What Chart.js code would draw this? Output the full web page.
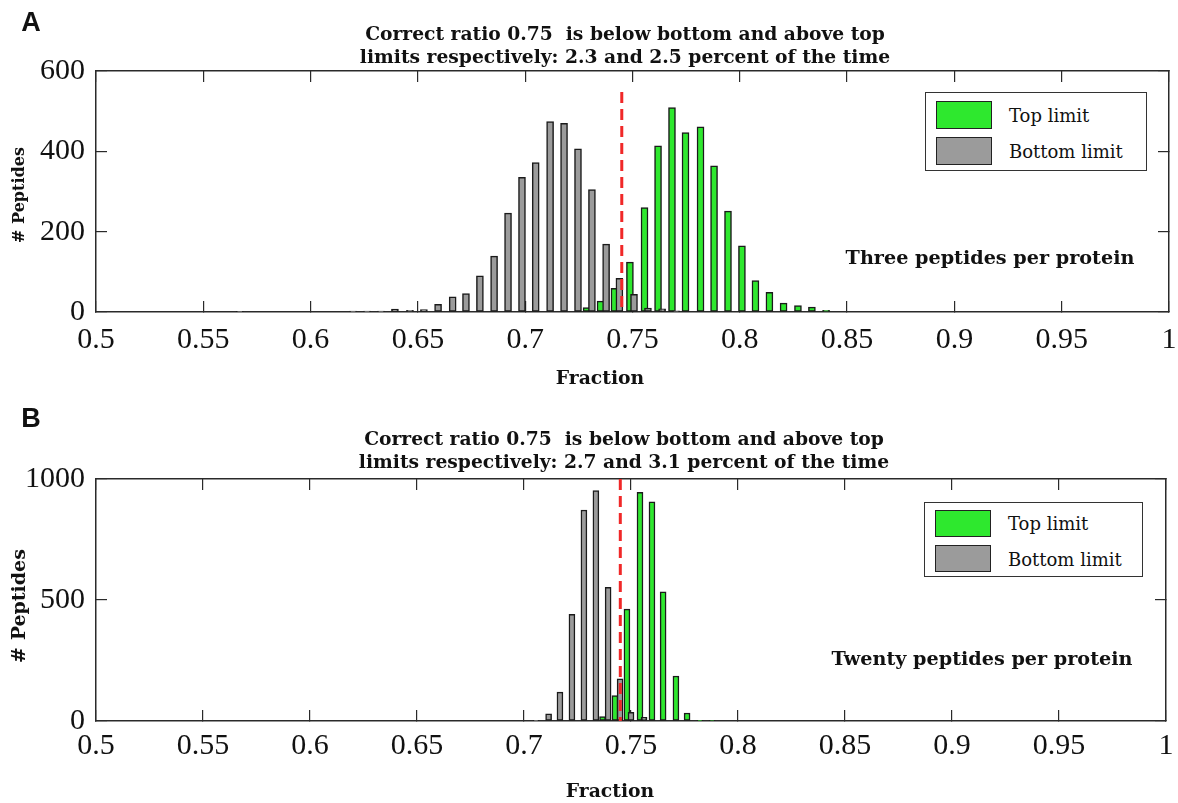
<!DOCTYPE html>
<html>
<head>
<meta charset="utf-8">
<script src="https://cdn.jsdelivr.net/npm/chart.js@4.4.1/dist/chart.umd.min.js"></script>
<style>
  html, body { margin: 0; padding: 0; background: #fff; }
  #page { position: relative; width: 1178px; height: 803px; overflow: hidden; background: #fff; }
  canvas { position: absolute; left: 0; }
  #cvA { top: 0; }
  #cvB { top: 400px; }
  .t { position: absolute; white-space: nowrap; color: #111; font-family: 'DejaVu Serif', serif; transform: translate(-50%, -50%); }
  .panel { font-family: 'Liberation Sans', Arial, sans-serif; font-weight: bold; font-size: 27px; }
  .ttl { font-weight: bold; font-size: 18.7px; line-height: 23px; text-align: center; }
  .bold { font-weight: bold; font-size: 18.8px; }
  .note { font-weight: bold; font-size: 19.2px; }
  .ylab { transform: translate(-50%, -50%) rotate(-90deg); font-weight: bold; font-size: 16px; }
  .legend { position: absolute; border: 1.5px solid #333; background: #fff; box-sizing: border-box; }
  .sw { position: absolute; left: 10px; width: 56px; height: 28px; border: 1.5px solid #222; box-sizing: border-box; }
  .lt { position: absolute; left: 83px; font-family: 'DejaVu Serif', serif; font-size: 18px; color: #111; transform: translateY(-50%); white-space: nowrap; }
</style>
</head>
<body>
<div id="page">
  <canvas id="cvA" width="1178" height="400"></canvas>
  <canvas id="cvB" width="1178" height="403"></canvas>

  <div class="t panel" style="left:31px;top:22px;">A</div>
  <div class="t ttl" style="left:625px;top:45px;">Correct ratio 0.75&nbsp; is below bottom and above top<br>limits respectively: 2.3 and 2.5 percent of the time</div>
  <div class="t ylab" style="left:18px;top:195px;"># Peptides</div>
  <div class="t bold" style="left:600px;top:377px;">Fraction</div>
  <div class="t note" style="left:990px;top:257px;">Three peptides per protein</div>
  <div class="legend" style="left:925px;top:92px;width:222px;height:79px;">
    <div class="sw" style="top:8px;background:#2ee82e;"></div>
    <div class="sw" style="top:44px;background:#9b9b9b;"></div>
    <div class="lt" style="top:22px;">Top limit</div>
    <div class="lt" style="top:58px;">Bottom limit</div>
  </div>

  <div class="t panel" style="left:31px;top:418px;">B</div>
  <div class="t ttl" style="left:624px;top:450px;">Correct ratio 0.75&nbsp; is below bottom and above top<br>limits respectively: 2.7 and 3.1 percent of the time</div>
  <div class="t ylab" style="left:18px;top:606px;font-size:19px;"># Peptides</div>
  <div class="t bold" style="left:610px;top:790px;">Fraction</div>
  <div class="t note" style="left:982px;top:658px;">Twenty peptides per protein</div>
  <div class="legend" style="left:924px;top:502px;width:219px;height:75px;">
    <div class="sw" style="top:7px;height:27px;background:#2ee82e;"></div>
    <div class="sw" style="top:42px;height:27px;background:#9b9b9b;"></div>
    <div class="lt" style="top:20px;">Top limit</div>
    <div class="lt" style="top:56px;">Bottom limit</div>
  </div>
</div>

<script>
/* ---- values ---- */

// x axis (fraction)
const xMin = 0.5, xMax = 1, xStep = 0.05;

// panel A: three peptides per protein
const fracA_bottom  = [0.5670, 0.6198, 0.6263, 0.6328, 0.6393, 0.6463, 0.6528, 0.6594, 0.6662, 0.6724, 0.6789, 0.6855, 0.6920,
                       0.6985, 0.7049, 0.7116, 0.7181, 0.7246, 0.7311, 0.7377, 0.7439, 0.7507, 0.7572, 0.7638, 0.7703];
const countA_bottom = [1, 2, 2, 2, 7, 4, 6, 19, 38, 46, 90, 139, 246,
                       335, 372, 474, 470, 406, 305, 169, 84, 44, 10, 8, 3];
const fracA_top     = [0.7286, 0.7351, 0.7416, 0.7488, 0.7556, 0.7619, 0.7684, 0.7747, 0.7817,
                       0.7880, 0.7945, 0.8010, 0.8073, 0.8138, 0.8204, 0.8271, 0.8336, 0.8402];
const countA_top    = [11, 27, 59, 124, 260, 414, 509, 447, 461,
                       364, 251, 165, 78, 49, 22, 16, 12, 4];
const yMaxA = 600, yStepA = 200;
const markerTopA = 548;

// panel B: twenty peptides per protein
const fracB_bottom  = [0.7056, 0.7115, 0.7168, 0.7224, 0.7280, 0.7336, 0.7393, 0.7449, 0.7500, 0.7561];
const countB_bottom = [3, 30, 119, 441, 872, 952, 552, 174, 36, 15];
const fracB_top     = [0.7367, 0.7425, 0.7481, 0.7542, 0.7598, 0.7650, 0.7710, 0.7762, 0.7822, 0.7879];
const countB_top    = [18, 105, 462, 945, 906, 534, 186, 33, 3, 2];
const yMaxB = 1000, yStepB = 500;
const markerTopB = 1000;

// dashed red marker
const markerX = 0.745;

/* ---- styling ---- */
const INK   = '#2a2a2a';
const GREEN = '#2ee82e';
const GRAY  = '#9b9b9b';
const EDGE  = '#1a1a1a';
const RED   = '#f02828';

function pts(xs, ys) {
  return xs.map((x, i) => ({ x: x, y: ys[i] }));
}

function fmt(v) {
  return String(+(+v).toFixed(2));
}

// one side of the MATLAB style box: border + inward tick marks
// (x labels are pushed down with a tall line height, so the tick padding
//  does not eat into the right margin)
function side(pos, min, max, step, labels, pad, lh, fit) {
  return {
    type: 'linear', position: pos, min: min, max: max, offset: false,
    grid: { drawOnChartArea: false, drawTicks: true, tickLength: -11, color: INK, lineWidth: 1.2, offset: false },
    border: { display: true, color: INK, width: 1.5 },
    ticks: {
      display: labels, stepSize: step, padding: pad, color: '#111',
      font: { family: 'Liberation Serif', size: 30, lineHeight: lh },
      maxRotation: 0, minRotation: 0, autoSkip: false, callback: fmt,
    },
    afterFit: fit,
  };
}

function barSet(label, data, color, thick, order) {
  return {
    type: 'bar', label: label, data: data,
    backgroundColor: color, borderColor: EDGE, borderWidth: 1.5, borderSkipped: false,
    barThickness: thick, grouped: false, order: order,
  };
}

function makePanel(id, p) {
  return new Chart(document.getElementById(id), {
    type: 'bar',
    data: {
      datasets: [
        {
          // drawn top-down so the dash pattern starts at the top end
          type: 'line', label: 'correct ratio',
          data: [{ x: markerX, y: p.markerTop }, { x: markerX, y: 0 }],
          borderColor: RED, borderWidth: 3, borderDash: [11, 6], pointRadius: 0, order: 0,
        },
        barSet('Bottom limit', pts(p.fracBottom, p.countBottom), GRAY, p.barW, 1),
        barSet('Top limit', pts(p.fracTop, p.countTop), GREEN, p.barW, 2),
      ],
    },
    options: {
      responsive: false, animation: false,
      layout: { padding: { top: p.top, right: p.right, bottom: 0, left: 0 } },
      plugins: { legend: { display: false }, tooltip: { enabled: false } },
      scales: {
        x:  side('bottom', xMin, xMax, xStep, true, 0, p.xLH, s => { s.height = p.xH; }),
        x2: side('top', xMin, xMax, xStep, false, 0, 1.2, s => { s.height = 0; }),
        y:  side('left', 0, p.yMax, p.yStep, true, 22, 1.2, s => { s.width = 96; }),
        y2: side('right', 0, p.yMax, p.yStep, false, 0, 1.2, s => { s.width = 0; }),
      },
    },
  });
}

makePanel('cvA', {
  fracBottom: fracA_bottom, countBottom: countA_bottom,
  fracTop: fracA_top, countTop: countA_top,
  yMax: yMaxA, yStep: yStepA, markerTop: markerTopA,
  barW: 7, top: 71, right: 9, xH: 88, xLH: 2.6,
});

makePanel('cvB', {
  fracBottom: fracB_bottom, countBottom: countB_bottom,
  fracTop: fracB_top, countTop: countB_top,
  yMax: yMaxB, yStep: yStepB, markerTop: markerTopB,
  barW: 6, top: 79, right: 12, xH: 82, xLH: 2.4,
});
</script>
</body>
</html>
